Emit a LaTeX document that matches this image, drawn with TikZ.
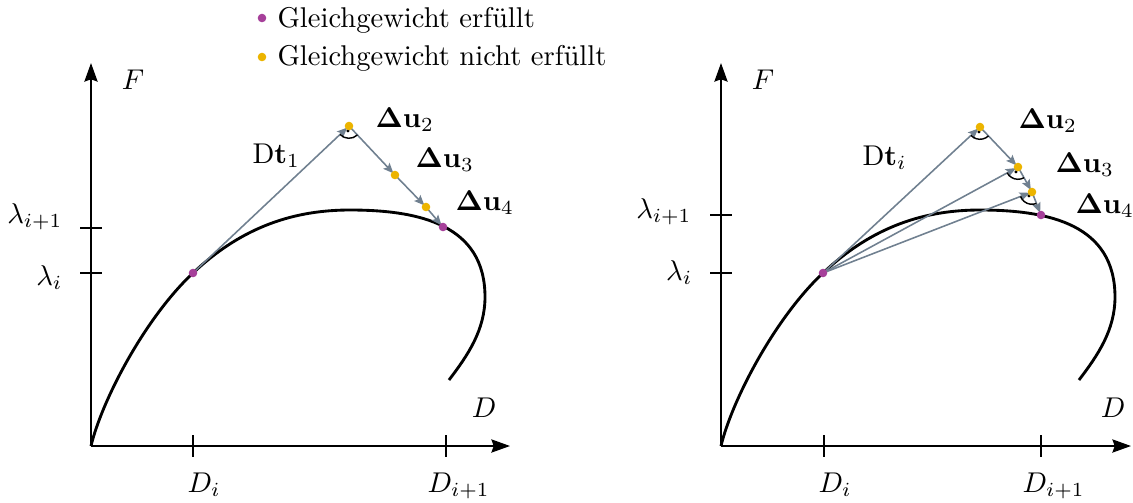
\documentclass[tikz,border=0pt]{standalone}
\usepackage{amsmath,amssymb}
\usetikzlibrary{arrows.meta,angles,quotes}
\definecolor{lila}{RGB}{166,64,154}
\definecolor{gelb}{RGB}{236,180,0}
\definecolor{grau}{RGB}{112,128,144}
\begin{document}
\begin{tikzpicture}[x=0.35pt,y=-0.35pt,
  axis/.style={line width=0.7pt,-{Stealth[length=6.5pt,width=4.6pt,inset=0.8pt]}},
  tick/.style={line width=0.7pt},
  curve/.style={line width=1pt},
  garrow/.style={grau,line width=0.55pt,-{Stealth[length=3.6pt,width=3pt,inset=0.7pt]},shorten >=0.8pt},
  dotp/.style={circle,fill=lila,inner sep=0pt,minimum size=3pt},
  doty/.style={circle,fill=gelb,inner sep=0pt,minimum size=3pt},
  rang/.style={draw,line width=0.5pt,angle radius=4.3pt,angle eccentricity=0.5},
  lab/.style={inner sep=0pt,anchor=base west},
  labe/.style={inner sep=0pt,anchor=base east}]
\useasboundingbox (0,0) rectangle (1133,502);

% legend
\node[dotp] (lg1) at (262,18) {};
\node[lab] (lgt1) at (277,27) {Gleichgewicht erfüllt};
\node[doty] (lg2) at (262,57) {};
\node[lab] (lgt2) at (277,65) {Gleichgewicht nicht erfüllt};

% ===== left panel =====
\coordinate (O1) at (91,446);
\coordinate (X1) at (510,446);
\coordinate (Y1) at (91,63);
\draw[axis] (O1) -- (X1);
\draw[axis] (O1) -- (Y1);
\coordinate (ta1) at (80,228); \coordinate (tb1) at (102,228);
\coordinate (tc1) at (80,273); \coordinate (td1) at (102,273);
\draw[tick] (ta1) -- (tb1);
\draw[tick] (tc1) -- (td1);
\coordinate (te1) at (193,435); \coordinate (tf1) at (193,457);
\coordinate (tg1) at (446,435); \coordinate (th1) at (446,457);
\draw[tick] (te1) -- (tf1);
\draw[tick] (tg1) -- (th1);
\node[labe] (l1a) at (63,223) {$\lambda_{i+1}$};
\node[labe] (l1b) at (63,285) {$\lambda_{i}$};
\node[lab] (d1a) at (187,492) {$D_i$};
\node[lab] (d1b) at (427,492) {$D_{i+1}$};
\node (F1) at (133,80) {$F$};
\node (D1) at (484,408) {$D$};

\draw[curve] (91,446) .. controls (102,400) and (145,318) .. (193,273)
  .. controls (243,226) and (295,210) .. (350,210)
  .. controls (420,210) and (485,225) .. (485,297)
  .. controls (485,330) and (468,355) .. (449,380);

\coordinate (P1) at (193,273);
\coordinate (P2) at (349,126);
\coordinate (P3) at (395,175);
\coordinate (P4) at (426,207);
\coordinate (P5) at (443,227);
\draw[garrow] (P1) -- (P2);
\draw[garrow] (P2) -- (P3);
\draw[garrow] (P3) -- (P4);
\draw[garrow] (P4) -- (P5);
\pic[rang,"$\cdot$"] {angle=P1--P2--P3};
\node[dotp] at (P1) {};
\node[doty] at (P2) {};
\node[doty] at (P3) {};
\node[doty] at (P4) {};
\node[dotp] at (P5) {};
\node[lab] (t1) at (252,163) {$\mathrm{D}\mathbf{t}_1$};
\node[lab] (u12) at (375,127) {$\boldsymbol{\Delta}\mathbf{u}_2$};
\node[lab] (u13) at (415,167) {$\boldsymbol{\Delta}\mathbf{u}_3$};
\node[lab] (u14) at (455,210) {$\boldsymbol{\Delta}\mathbf{u}_4$};

% ===== right panel =====
\coordinate (O2) at (721,446);
\coordinate (X2) at (1131,446);
\coordinate (Y2) at (721,63);
\draw[axis] (O2) -- (X2);
\draw[axis] (O2) -- (Y2);
\coordinate (ta2) at (710,215); \coordinate (tb2) at (732,215);
\coordinate (tc2) at (710,273); \coordinate (td2) at (732,273);
\draw[tick] (ta2) -- (tb2);
\draw[tick] (tc2) -- (td2);
\coordinate (te2) at (824,435); \coordinate (tf2) at (824,457);
\coordinate (tg2) at (1041,435); \coordinate (th2) at (1041,457);
\draw[tick] (te2) -- (tf2);
\draw[tick] (tg2) -- (th2);
\node[labe] (l2a) at (692,218) {$\lambda_{i+1}$};
\node[labe] (l2b) at (693,280) {$\lambda_{i}$};
\node[lab] (d2a) at (818,492) {$D_i$};
\node[lab] (d2b) at (1022,492) {$D_{i+1}$};
\node (F2) at (763,80) {$F$};
\node (D2) at (1113,408) {$D$};

\begin{scope}[shift={(630,0)}]
\draw[curve] (91,446) .. controls (102,400) and (145,318) .. (193,273)
  .. controls (243,226) and (295,210) .. (350,210)
  .. controls (420,210) and (485,225) .. (485,297)
  .. controls (485,330) and (468,355) .. (449,380);
\end{scope}

\coordinate (Q1) at (823,273);
\coordinate (Q2) at (980,127);
\coordinate (Q3) at (1018,167);
\coordinate (Q4) at (1032,192);
\coordinate (Q5) at (1041,215);
\draw[garrow] (Q1) -- (Q2);
\draw[garrow] (Q1) -- (Q3);
\draw[garrow] (Q1) -- (Q4);
\draw[garrow] (Q2) -- (Q3);
\draw[garrow] (Q3) -- (Q4);
\draw[garrow] (Q4) -- (Q5);
\pic[rang,"$\cdot$"] {angle=Q1--Q2--Q3};
\pic[rang,"$\cdot$"] {angle=Q1--Q3--Q4};
\pic[rang,"$\cdot$"] {angle=Q1--Q4--Q5};
\node[dotp] at (Q1) {};
\node[doty] at (Q2) {};
\node[doty] at (Q3) {};
\node[doty] at (Q4) {};
\node[dotp] at (Q5) {};
\node[lab] (t2) at (862,165) {$\mathrm{D}\mathbf{t}_i$};
\node[lab] (u22) at (1018,128) {$\boldsymbol{\Delta}\mathbf{u}_2$};
\node[lab] (u23) at (1055,172) {$\boldsymbol{\Delta}\mathbf{u}_3$};
\node[lab] (u24) at (1075,213) {$\boldsymbol{\Delta}\mathbf{u}_4$};
\end{tikzpicture}
\end{document}
